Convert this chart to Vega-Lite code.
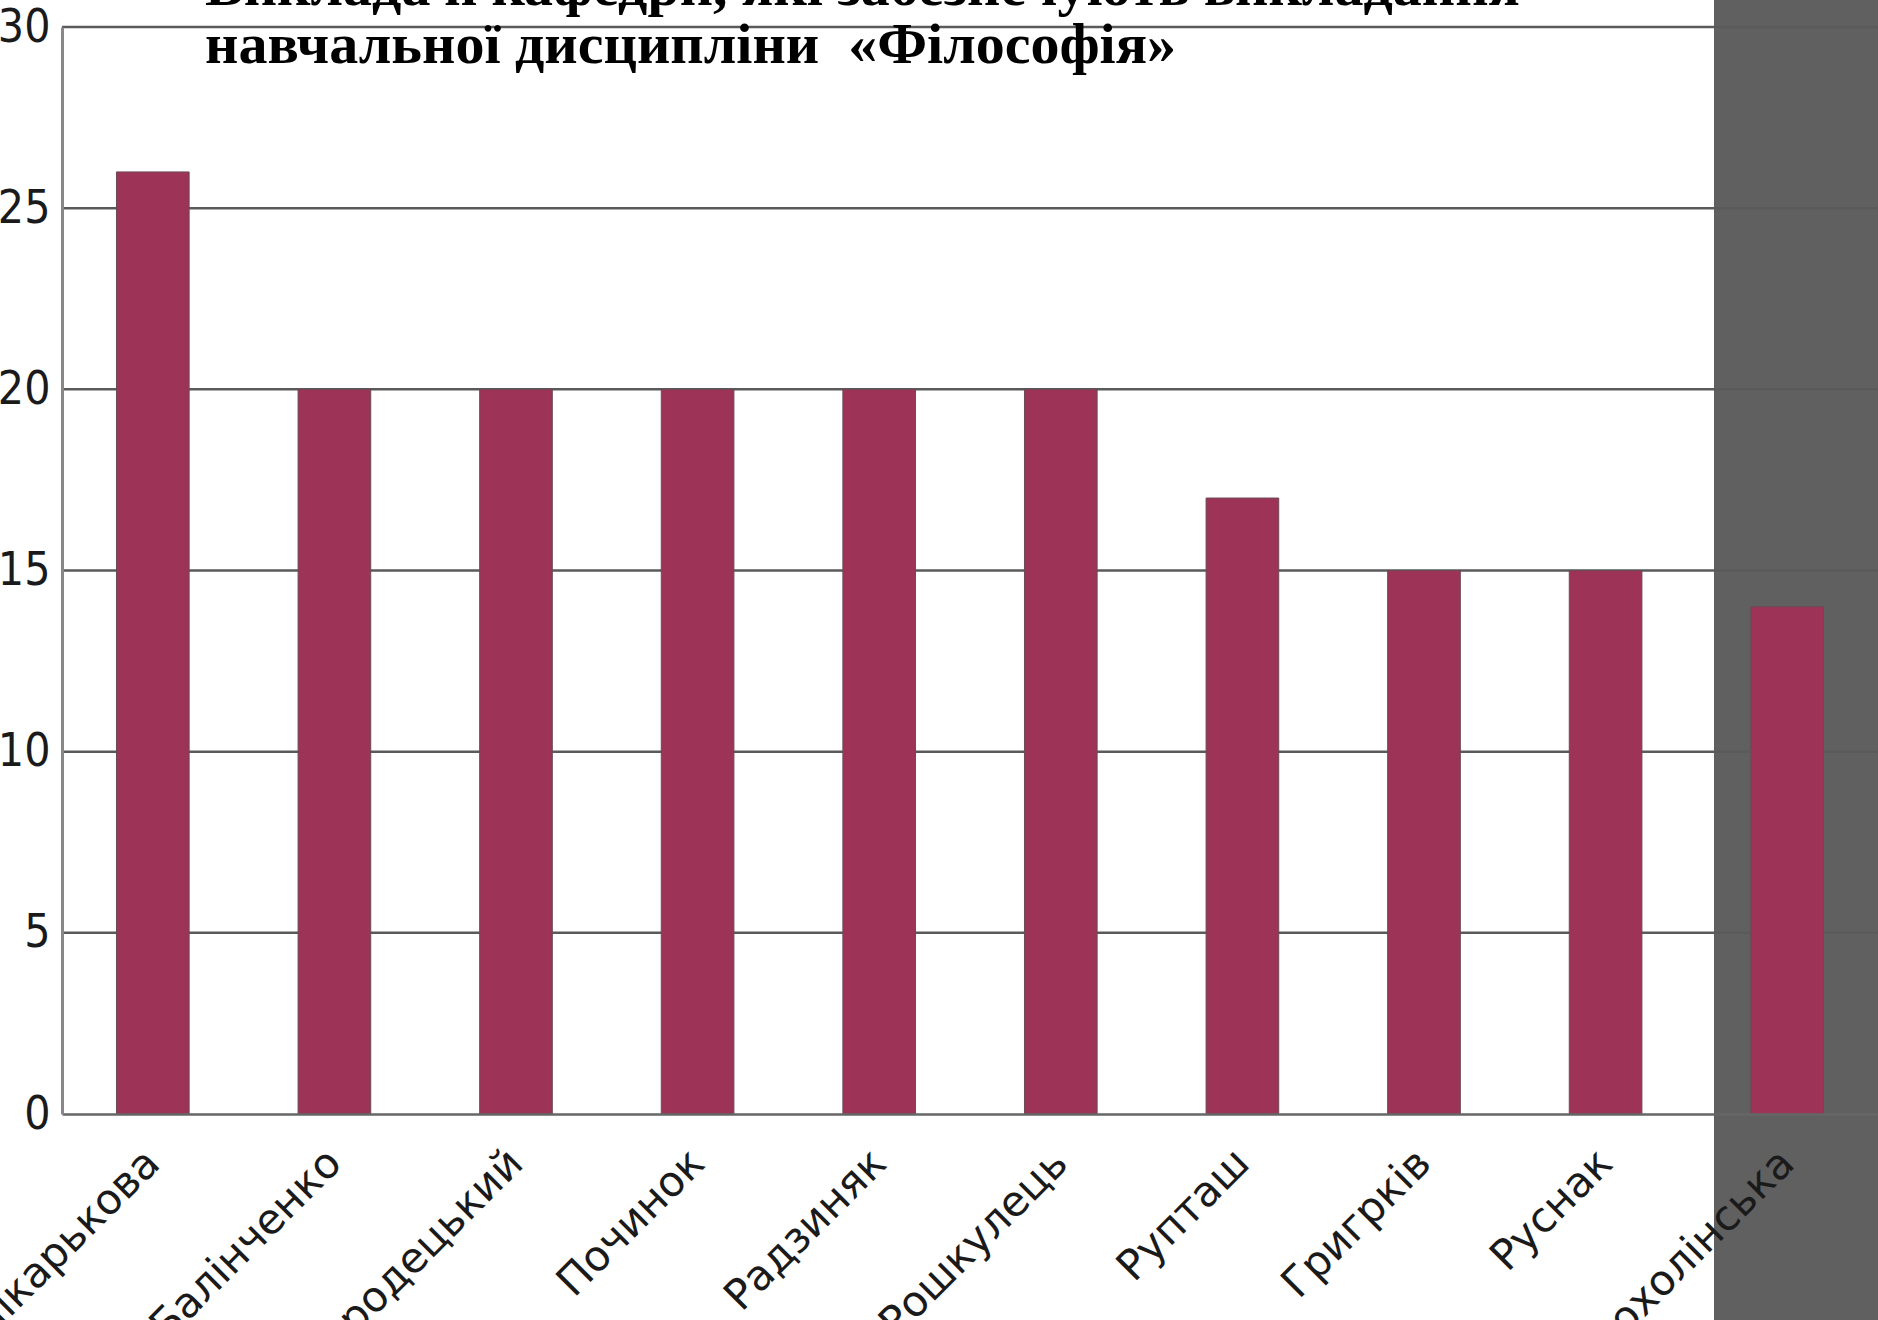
{
  "$schema": "https://vega.github.io/schema/vega-lite/v6.json",
  "autosize": "none",
  "width": 1816,
  "height": 1087,
  "padding": {"left": 62, "top": 27, "right": 0, "bottom": 206},
  "background": "white",
  "title": {
    "text": ["Викладачі кафедри, які забезпечують викладання", "навчальної дисципліни \u00a0«Філософія»"],
    "anchor": "start",
    "frame": "group",
    "orient": "top",
    "dx": 143,
    "offset": -178,
    "baseline": "bottom",
    "font": "Liberation Serif",
    "fontSize": 58,
    "fontWeight": "bold",
    "lineHeight": 58,
    "color": "#000000"
  },
  "config": {
    "view": {"stroke": null},
    "axis": {"grid": false}
  },
  "datasets": {
    "bars": [
      {"name": "Лікарькова", "value": 26},
      {"name": "Балінченко", "value": 20},
      {"name": "Городецький", "value": 20},
      {"name": "Починок", "value": 20},
      {"name": "Радзиняк", "value": 20},
      {"name": "Рошкулець", "value": 20},
      {"name": "Рупташ", "value": 17},
      {"name": "Григрків", "value": 15},
      {"name": "Руснак", "value": 15},
      {"name": "Прохолінська", "value": 14}
    ],
    "grid": [{"g": 5}, {"g": 10}, {"g": 15}, {"g": 20}, {"g": 25}, {"g": 30}]
  },
  "layer": [
    {
      "data": {"name": "bars"},
      "mark": {"type": "rect", "color": "#606060", "clip": false},
      "encoding": {
        "x": {"datum": "Прохолінська", "bandPosition": -0.5, "type": "nominal",
          "scale": {"domain": ["Лікарькова","Балінченко","Городецький","Починок","Радзиняк","Рошкулець","Рупташ","Григрків","Руснак","Прохолінська"], "paddingInner": 0.6, "paddingOuter": 0.3}},
        "x2": {"datum": "Прохолінська", "bandPosition": 4},
        "y": {"datum": 32, "type": "quantitative", "scale": {"domain": [0, 30], "nice": false}},
        "y2": {"datum": -8}
      }
    },
    {
      "data": {"name": "grid"},
      "mark": {"type": "rule", "color": "#5a5a5a", "strokeWidth": 2.5},
      "encoding": {
        "y": {"field": "g", "type": "quantitative"}
      }
    },
    {
      "data": {"name": "bars"},
      "mark": {"type": "bar", "color": "#9e3358", "stroke": "#6a4a55", "strokeWidth": 1},
      "encoding": {
        "x": {"field": "name", "type": "nominal", "sort": null,
          "axis": {"title": null, "labelAngle": -45, "labelLimit": 0, "labelFont": "DejaVu Sans", "labelFontSize": 42, "labelColor": "#1a1a1a", "labelPadding": 42, "ticks": false, "domainColor": "#666666", "domainWidth": 2.5, "zindex": 1}},
        "y": {"field": "value", "type": "quantitative",
          "axis": {"title": null, "values": [0,5,10,15,20,25,30], "labelFont": "DejaVu Sans Condensed, DejaVu Sans", "labelFontSize": 46, "labelColor": "#1a1a1a", "labelPadding": 12, "ticks": false, "domainColor": "#888888", "domainWidth": 3, "zindex": 1}}
      }
    }
  ]
}
